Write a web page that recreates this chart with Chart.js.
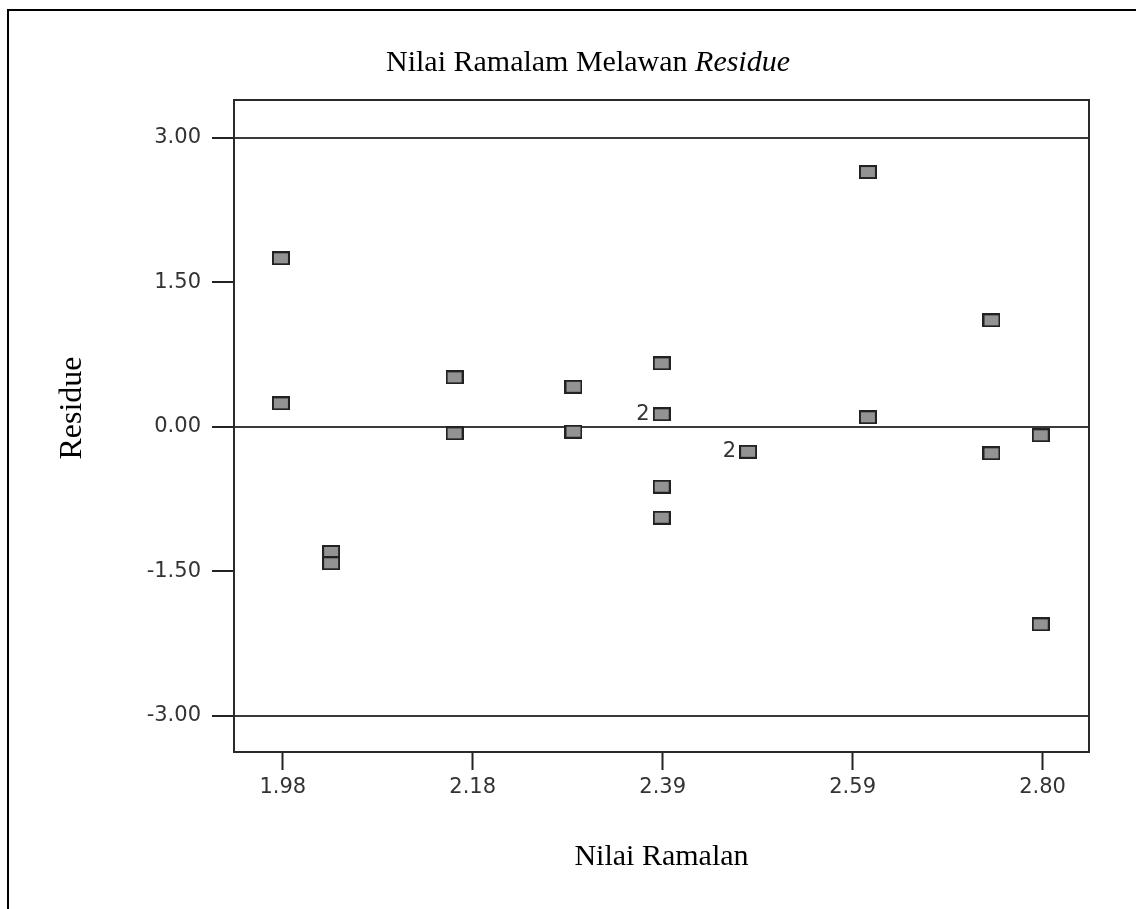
<!DOCTYPE html>
<html lang="ms">
<head>
  <meta charset="UTF-8" />
  <title>Nilai Ramalam Melawan Residue</title>
  <script src="https://cdn.jsdelivr.net/npm/chart.js"></script>
  <style>
    body {
      margin: 0;
      background: #fff;
    }
    .frame {
      position: absolute;
      left: 7px;
      top: 9px;
      right: -4px;
      bottom: -4px;
      border-left: 2px solid #000;
      border-top: 2px solid #000;
    }
    .wrap {
      position: relative;
      width: 1136px;
      height: 909px;
    }
  </style>
</head>
<body>
  <div class="frame"></div>
  <div class="wrap">
    <canvas id="residChart"></canvas>
  </div>

  <script>
    // fitted values (Nilai Ramalan) and residues
    const fitted  = [1.975, 1.975, 2.029, 2.029, 2.162, 2.162, 2.290, 2.290, 2.385, 2.385, 2.385, 2.385, 2.478, 2.607, 2.607, 2.740, 2.740, 2.793, 2.793];
    const residue = [1.749, 0.243, -1.301, -1.418, 0.513, -0.069, 0.415, -0.052, 0.658, 0.129, -0.623, -0.945, -0.260, 2.645, 0.098, 1.105, -0.276, -0.089, -2.052];
    const counts  = [1, 1, 1, 1, 1, 1, 1, 1, 1, 2, 1, 1, 2, 1, 1, 1, 1, 1, 1];

    const xTickValues = [1.977, 2.1815, 2.386, 2.5905, 2.795];
    const xTickLabels = ['1.98', '2.18', '2.39', '2.59', '2.80'];
    const yTickValues = [-3, -1.5, 0, 1.5, 3];
    const refLines = [-3, 0, 3];

    const titleMain = 'Nilai Ramalam Melawan ';
    const titleItalic = 'Residue';
    const xTitle = 'Nilai Ramalan';
    const yTitle = 'Residue';

    const serif = '"Liberation Serif", "Times New Roman", serif';
    const sans = '"DejaVu Sans", sans-serif';

    // grey box marker, a bit wider than tall
    function makeMarker() {
      const c = document.createElement('canvas');
      c.width = 18;
      c.height = 14;
      const g = c.getContext('2d');
      g.fillStyle = '#939393';
      g.fillRect(0, 0, 18, 14);
      g.strokeStyle = '#222';
      g.lineWidth = 2;
      g.strokeRect(1, 1, 16, 12);
      return c;
    }

    const points = fitted.map((x, i) => ({ x, y: residue[i] }));

    const decorations = {
      id: 'decorations',
      afterDatasetsDraw(chart) {
        const { ctx, chartArea: a } = chart;
        ctx.save();
        // plot box
        ctx.strokeStyle = '#2a2a2a';
        ctx.lineWidth = 2;
        ctx.strokeRect(a.left, a.top, a.right - a.left, a.bottom - a.top);

        // multiplicity labels
        const meta = chart.getDatasetMeta(0);
        ctx.fillStyle = '#333';
        ctx.font = '21px ' + sans;
        ctx.textAlign = 'right';
        ctx.textBaseline = 'middle';
        meta.data.forEach((pt, i) => {
          if (counts[i] > 1) ctx.fillText(String(counts[i]), pt.x - 12, pt.y);
        });

        // title
        ctx.fillStyle = '#000';
        ctx.textBaseline = 'alphabetic';
        ctx.textAlign = 'left';
        ctx.font = '30px ' + serif;
        const w1 = ctx.measureText(titleMain).width;
        ctx.font = 'italic 30px ' + serif;
        const w2 = ctx.measureText(titleItalic).width;
        const tx = 588 - (w1 + w2) / 2;
        ctx.font = '30px ' + serif;
        ctx.fillText(titleMain, tx, 71);
        ctx.font = 'italic 30px ' + serif;
        ctx.fillText(titleItalic, tx + w1, 71);

        // axis titles
        ctx.font = '30px ' + serif;
        ctx.textAlign = 'center';
        ctx.textBaseline = 'middle';
        ctx.fillText(xTitle, (a.left + a.right) / 2, 857);
        ctx.font = '32px ' + serif;
        ctx.translate(73, 408);
        ctx.rotate(-Math.PI / 2);
        ctx.fillText(yTitle, 0, 0);
        ctx.restore();
      }
    };

    new Chart(document.getElementById('residChart'), {
      type: 'scatter',
      data: {
        datasets: [{
          data: points,
          pointStyle: makeMarker(),
          pointRadius: 9,
          pointHoverRadius: 9
        }]
      },
      options: {
        responsive: true,
        maintainAspectRatio: false,
        animation: false,
        events: [],
        layout: { padding: { top: 100, right: 47, left: 0, bottom: 0 } },
        plugins: {
          legend: { display: false },
          tooltip: { enabled: false },
          title: { display: false }
        },
        scales: {
          x: {
            type: 'linear',
            min: 1.9245,
            max: 2.845,
            afterFit: s => { s.height = 157; },
            afterBuildTicks: s => { s.ticks = xTickValues.map(v => ({ value: v })); },
            grid: {
              drawOnChartArea: false,
              tickLength: 18,
              tickColor: '#222',
              tickWidth: 2
            },
            border: { display: true, color: '#2a2a2a', width: 2 },
            ticks: {
              color: '#333',
              font: { family: sans, size: 21 },
              padding: 5,
              maxRotation: 0,
              autoSkip: false,
              callback: (v, i) => xTickLabels[i]
            }
          },
          y: {
            type: 'linear',
            min: -3.378,
            max: 3.393,
            afterFit: s => { s.width = 234; },
            afterBuildTicks: s => { s.ticks = yTickValues.map(v => ({ value: v })); },
            grid: {
              drawOnChartArea: true,
              color: c => refLines.includes(c.tick && c.tick.value) ? '#3a3a3a' : 'rgba(0,0,0,0)',
              lineWidth: 2,
              tickLength: 22,
              tickColor: '#222',
              tickWidth: 2
            },
            border: { display: true, color: '#2a2a2a', width: 2 },
            ticks: {
              color: '#333',
              font: { family: sans, size: 21 },
              padding: 11,
              autoSkip: false,
              callback: v => v.toFixed(2)
            }
          }
        }
      },
      plugins: [decorations]
    });
  </script>
</body>
</html>
